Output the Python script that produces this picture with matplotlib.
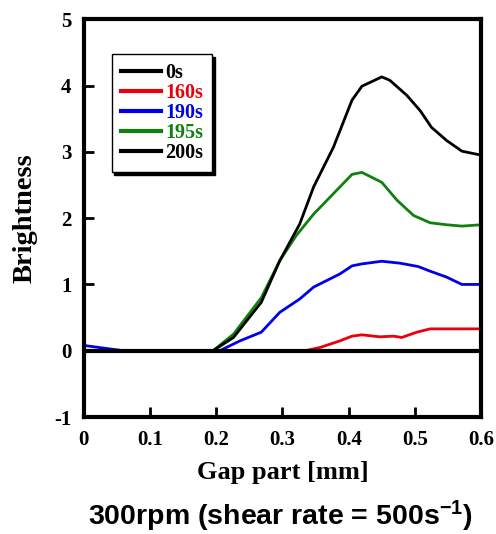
import numpy as np
import matplotlib.pyplot as plt

# Data
x_0s = [0.0, 0.6]
y_0s = [0.0, 0.0]

x_160 = [0.0, 0.334, 0.357, 0.387, 0.405, 0.42, 0.447, 0.468, 0.48, 0.503, 0.523, 0.548, 0.6]
y_160 = [0.0, 0.0, 0.05, 0.15, 0.22, 0.24, 0.21, 0.22, 0.2, 0.28, 0.33, 0.33, 0.33]

x_190 = [0.0, 0.03, 0.06, 0.205, 0.236, 0.268, 0.296, 0.326, 0.347, 0.367, 0.387, 0.405,
         0.42, 0.45, 0.478, 0.505, 0.523, 0.548, 0.571, 0.6]
y_190 = [0.08, 0.04, 0.0, 0.0, 0.15, 0.28, 0.58, 0.78, 0.96, 1.06, 1.16, 1.28,
         1.31, 1.35, 1.32, 1.27, 1.2, 1.11, 1.0, 1.0]

x_195 = [0.0, 0.195, 0.226, 0.268, 0.296, 0.321, 0.347, 0.377, 0.405, 0.42, 0.45,
         0.473, 0.498, 0.523, 0.548, 0.571, 0.6]
y_195 = [0.0, 0.0, 0.25, 0.8, 1.36, 1.74, 2.06, 2.37, 2.66, 2.69, 2.54,
         2.27, 2.04, 1.93, 1.9, 1.88, 1.9]

x_200 = [0.0, 0.195, 0.226, 0.268, 0.296, 0.326, 0.347, 0.377, 0.405, 0.42, 0.45,
         0.462, 0.488, 0.508, 0.525, 0.548, 0.571, 0.6]
y_200 = [0.0, 0.0, 0.2, 0.73, 1.36, 1.91, 2.47, 3.07, 3.78, 3.99, 4.13,
         4.08, 3.85, 3.62, 3.37, 3.17, 3.01, 2.95]

xticks = [0, 0.1, 0.2, 0.3, 0.4, 0.5, 0.6]
xticklabels = ['0', '0.1', '0.2', '0.3', '0.4', '0.5', '0.6']
yticks = [-1, 0, 1, 2, 3, 4, 5]
yticklabels = ['-1', '0', '1', '2', '3', '4', '5']

serif = ['Liberation Serif', 'DejaVu Serif']
plt.rcParams['font.family'] = serif
plt.rcParams['font.weight'] = 'bold'
plt.rcParams['mathtext.default'] = 'regular'

fig = plt.figure(figsize=(4.96, 5.34), dpi=100)
ax = fig.add_axes([0.169, 0.219, 0.801, 0.745])

ax.plot(x_0s, y_0s, color='black', lw=3, label='0s', zorder=3)
ax.plot(x_160, y_160, color='#e8000b', lw=2, label='160s')
ax.plot(x_190, y_190, color='#0000e6', lw=2, label='190s')
ax.plot(x_195, y_195, color='#108010', lw=2, label='195s')
ax.plot(x_200, y_200, color='black', lw=2, label='200s')

ax.set_xlim(0, 0.6)
ax.set_ylim(-1, 5)
ax.set_xticks(xticks)
ax.set_xticklabels(xticklabels)
ax.set_yticks(yticks)
ax.set_yticklabels(yticklabels)
ax.tick_params(direction='in', length=7, width=2, labelsize=15)
ax.tick_params(axis='x', pad=9)
ax.tick_params(axis='y', pad=9)
for lab in ax.get_xticklabels() + ax.get_yticklabels():
    lab.set_fontweight('bold')
for sp in ax.spines.values():
    sp.set_linewidth(3)

ax.set_xlabel('Gap part [mm]', fontsize=19, fontweight='bold', labelpad=8)
ax.set_ylabel('Brightness', fontsize=20.5, fontweight='bold', labelpad=12)

leg = ax.legend(loc='upper left', bbox_to_anchor=(0.07, 0.912), borderaxespad=0,
                frameon=True, fancybox=False,
                shadow={'color': 'black', 'alpha': 1}, edgecolor='black',
                handlelength=2.0, handletextpad=0.2, labelspacing=0.0,
                borderpad=0.45, prop={'family': serif, 'weight': 'bold', 'size': 14.5})
leg.get_frame().set_linewidth(1.0)
for txt, line in zip(leg.get_texts(), leg.get_lines()):
    txt.set_color(line.get_color())
    line.set_linewidth(3)

fig.text(0.565, 0.016, '300rpm (shear rate = 500s$^{-1}$)', ha='center', va='baseline',
         fontsize=20.5, fontweight='bold', family=['Liberation Sans', 'DejaVu Sans'])

fig.savefig('out.png')
plt.close()
